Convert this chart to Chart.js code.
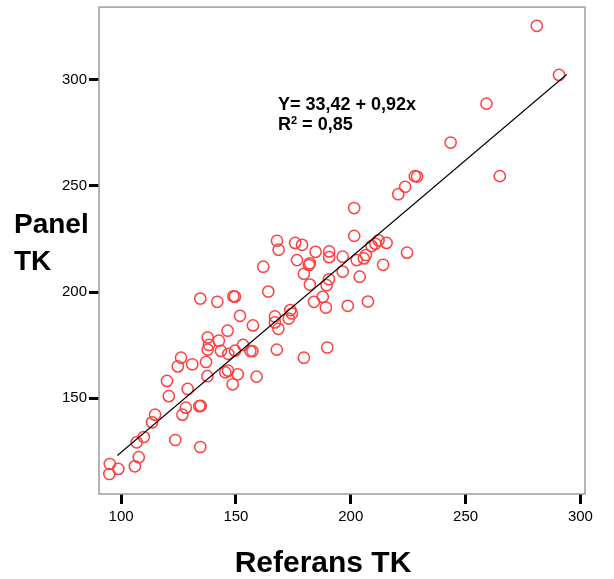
<!DOCTYPE html>
<html><head><meta charset="utf-8">
<script src="https://cdn.jsdelivr.net/npm/chart.js@4/dist/chart.umd.min.js"></script>
<style>html,body{margin:0;padding:0;background:#fff}#wrap{width:614px;height:579px;position:relative}</style>
</head><body><div id="wrap"><canvas id="c" width="614" height="579"></canvas></div>
<script>
const refTK = [281.0, 290.7, 259.1, 243.5, 264.9, 227.9, 228.9, 223.7, 220.7,
  201.5, 201.5, 167.9, 168.6, 175.8, 178.8, 184.7, 190.6, 190.6, 196.5,
  176.6, 182.2, 181.8, 179.6, 161.9, 196.5, 203.9, 182.2, 190.5, 189.5,
  202.6, 205.7, 206.6, 209.1, 210.7, 212.1, 215.6, 214.1, 224.5,
  164.1, 148.9, 149.6, 187.8, 184.0, 189.2, 198.7, 207.5,
  151.8, 157.4, 167.0, 167.0, 173.7, 174.4, 173.0, 168.5,
  134.5, 141.9, 137.7, 146.4, 142.6, 138.3, 137.7, 143.5, 146.7, 149.6,
  153.1, 156.3, 157.2, 126.1, 124.7, 131.0, 137.0, 137.6, 145.4, 146.6,
  150.8, 148.6, 120.0, 129.0, 120.8, 159.0,
  167.8, 179.6, 189.8,
  114.8, 113.5, 128.2, 126.7, 134.1, 134.7, 109.9, 106.8, 123.6, 134.5, 107.7, 106.0, 95.1, 98.8, 94.9];
const panelTK = [325.2, 302.1, 288.6, 270.3, 254.5, 254.5, 254.3, 249.5, 246.0,
  239.5, 226.4, 224.1, 219.9, 223.1, 222.2, 218.9, 219.1, 216.4, 216.6,
  215.0, 213.5, 212.7, 208.6, 211.9, 209.6, 207.2, 203.5, 206.0, 203.2,
  215.0, 215.8, 217.4, 221.6, 222.7, 224.3, 223.1, 212.8, 218.5,
  200.2, 198.0, 197.8, 197.7, 195.4, 192.7, 193.5, 195.5,
  188.8, 184.3, 188.5, 185.7, 191.5, 189.9, 187.5, 182.7,
  196.9, 195.4, 178.6, 181.8, 177.1, 175.1, 172.9, 172.3, 170.9, 172.4,
  175.1, 172.2, 172.2, 169.1, 165.0, 166.0, 167.1, 160.4, 162.2, 163.0,
  161.3, 156.6, 158.2, 154.4, 151.0, 160.2,
  172.9, 169.1, 173.9,
  142.3, 138.7, 145.6, 142.3, 146.3, 146.5, 131.8, 129.3, 130.4, 127.1, 122.3, 118.0, 119.1, 116.8, 114.4];
const xTicks = [100, 150, 200, 250, 300];
const yTicks = [150, 200, 250, 300];
const fitX = [98.4, 294.0];
const fitY = [123.1, 302.3];
const xTitle = 'Referans TK';
const yTitle = ['Panel', 'TK'];
const eqText = 'Y= 33,42 + 0,92x';
const r2Label = 'R';
const r2Sup = '2';
const r2Value = ' = 0,85';

const FONT = '"Liberation Sans", Arial, Helvetica, sans-serif';

const points = refTK.map((x, i) => ({x: x, y: panelTK[i]}));
const fitLine = fitX.map((x, i) => ({x: x, y: fitY[i]}));

const decor = {
  id: 'decor',
  afterDraw(chart) {
    const ctx = chart.ctx;
    const a = chart.chartArea;
    ctx.save();
    ctx.strokeStyle = '#9c9c9c';
    ctx.lineWidth = 1.5;
    ctx.strokeRect(a.left, a.top, a.right - a.left, a.bottom - a.top);
    ctx.fillStyle = '#000';
    ctx.textBaseline = 'alphabetic';
    ctx.textAlign = 'left';
    ctx.font = 'bold 28px ' + FONT;
    ctx.fillText(yTitle[0], 14, 233);
    ctx.fillText(yTitle[1], 14, 269.5);
    ctx.textAlign = 'center';
    ctx.font = 'bold 30px ' + FONT;
    ctx.fillText(xTitle, 323, 571.5);
    ctx.textAlign = 'left';
    ctx.font = 'bold 18px ' + FONT;
    ctx.fillText(eqText, 278, 109.5);
    ctx.fillText(r2Label, 278, 130);
    let x = 278 + ctx.measureText(r2Label).width;
    ctx.font = 'bold 11px ' + FONT;
    ctx.fillText(r2Sup, x, 124);
    x += ctx.measureText(r2Sup).width;
    ctx.font = 'bold 18px ' + FONT;
    ctx.fillText(r2Value, x, 130);
    ctx.restore();
  }
};

const tickGrid = {display: true, drawOnChartArea: false, drawTicks: true, tickLength: 10, tickWidth: 3, tickColor: '#000'};

new Chart(document.getElementById('c'), {
  type: 'scatter',
  data: {
    datasets: [
      {
        type: 'line',
        data: fitLine,
        borderColor: '#000',
        borderWidth: 1.1,
        pointRadius: 0,
        fill: false,
        showLine: true,
        order: 0
      },
      {
        data: points,
        pointStyle: 'circle',
        pointRadius: 5.6,
        pointBorderWidth: 1.5,
        borderColor: '#ff4040',
        backgroundColor: 'rgba(0,0,0,0)',
        pointBackgroundColor: 'rgba(0,0,0,0)',
        pointBorderColor: '#ff4040',
        order: 1
      }
    ]
  },
  options: {
    responsive: false,
    animation: false,
    devicePixelRatio: 1,
    layout: {padding: {top: 5, right: 29, bottom: 0, left: 0}},
    plugins: {legend: {display: false}, tooltip: {enabled: false}},
    scales: {
      x: {
        type: 'linear', min: 90.4, max: 302,
        afterBuildTicks: s => { s.ticks = xTicks.map(v => ({value: v})); },
        afterFit: s => { s.height = 85; s.paddingLeft = 0; s.paddingRight = 0; },
        ticks: {color: '#000', font: {family: FONT, size: 15}, padding: 4, autoSkip: false, maxRotation: 0},
        grid: tickGrid,
        border: {display: false}
      },
      y: {
        type: 'linear', min: 105, max: 334,
        afterBuildTicks: s => { s.ticks = yTicks.map(v => ({value: v})); },
        afterFit: s => { s.width = 99; s.paddingTop = 0; s.paddingBottom = 0; },
        ticks: {color: '#000', font: {family: FONT, size: 15}, padding: 2, autoSkip: false},
        grid: tickGrid,
        border: {display: false}
      }
    }
  },
  plugins: [decor]
});
</script></body></html>
